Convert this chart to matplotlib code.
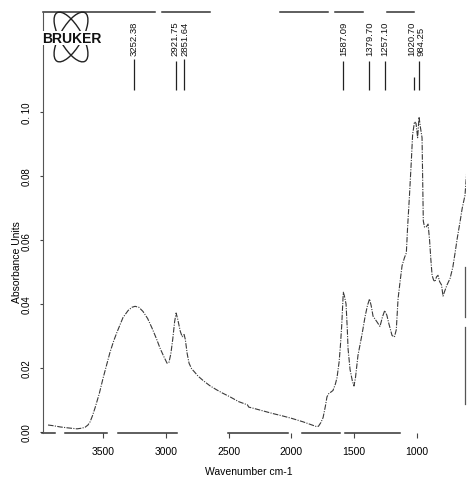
import numpy as np
import matplotlib.pyplot as plt
from matplotlib.patches import Ellipse

plt.rcParams['font.family'] = ['Liberation Sans', 'DejaVu Sans']

# spectrum (wavenumber cm-1, absorbance)
wavenumber = [3938, 3900, 3842, 3780, 3707, 3670, 3643, 3620, 3603, 3585, 3564,
              3530, 3500, 3470, 3444, 3415, 3389, 3360, 3341, 3300, 3270, 3245,
              3215, 3182, 3145, 3110, 3075, 3046, 3015, 2990, 2975, 2960, 2945,
              2930, 2918, 2905, 2885, 2870, 2855, 2845, 2830, 2815, 2795, 2770,
              2744, 2700, 2650, 2600, 2550, 2489, 2420, 2350, 2340, 2300, 2226,
              2150, 2067, 2000, 1908, 1850, 1800, 1785, 1765, 1748, 1730, 1717,
              1700, 1685, 1669, 1650, 1637, 1620, 1610, 1600, 1592, 1587, 1578,
              1565, 1555, 1549, 1533, 1515, 1502, 1490, 1470, 1450, 1438, 1414,
              1395, 1378, 1365, 1350, 1320, 1295, 1275, 1257, 1240, 1225, 1199,
              1180, 1165, 1151, 1135, 1119, 1100, 1085, 1075, 1060, 1045, 1035,
              1020, 1008, 995, 984, 972, 960, 950, 940, 925, 912, 900, 890, 880,
              868, 857, 845, 833, 820, 805, 793, 780, 761, 737, 715, 697, 680,
              658, 640, 618, 605]
absorbance = [0.0022, 0.0020, 0.0016, 0.0013, 0.0010, 0.0012, 0.0015, 0.0022,
              0.0032, 0.0050, 0.0075, 0.0120, 0.0168, 0.0212, 0.0250, 0.0285,
              0.0312, 0.0340, 0.0358, 0.0380, 0.0390, 0.0393, 0.0390, 0.0377,
              0.0355, 0.0325, 0.0292, 0.0262, 0.0235, 0.0215, 0.0218, 0.0245,
              0.0290, 0.0345, 0.0372, 0.0352, 0.0315, 0.0298, 0.0305, 0.0290,
              0.0245, 0.0215, 0.0198, 0.0187, 0.0175, 0.0160, 0.0145, 0.0133,
              0.0122, 0.0110, 0.0095, 0.0085, 0.0078, 0.0074, 0.0066, 0.0058,
              0.0050, 0.0043, 0.0032, 0.0024, 0.0017, 0.0018, 0.0030, 0.0045,
              0.0080, 0.0110, 0.0122, 0.0125, 0.0130, 0.0150, 0.0170, 0.0220,
              0.0270, 0.0330, 0.0400, 0.0437, 0.0425, 0.0400, 0.0320, 0.0260,
              0.0195, 0.0160, 0.0144, 0.0170, 0.0240, 0.0280, 0.0305, 0.0360,
              0.0395, 0.0416, 0.0395, 0.0362, 0.0345, 0.0330, 0.0360, 0.0380,
              0.0365, 0.0340, 0.0302, 0.0297, 0.0320, 0.0416, 0.0470, 0.0520,
              0.0545, 0.0560, 0.0640, 0.0740, 0.0850, 0.0930, 0.0970, 0.0965,
              0.0920, 0.0985, 0.0950, 0.0920, 0.0660, 0.0640, 0.0642, 0.0650,
              0.0600, 0.0540, 0.0490, 0.0475, 0.0470, 0.0485, 0.0490, 0.0470,
              0.0460, 0.0425, 0.0440, 0.0460, 0.0480, 0.0515, 0.0560, 0.0605,
              0.0656, 0.0700, 0.0740, 0.0810]

peak_wn = [3252.38, 2921.75, 2851.64, 1587.09, 1379.70, 1257.10, 1020.70, 984.25]
peak_labels = ['3252.38', '2921.75', '2851.64', '1587.09', '1379.70', '1257.10',
               '1020.70', '984.25']
peak_line_top = [0.1166, 0.116, 0.1166, 0.116, 0.116, 0.116, 0.111, 0.116]

x_ticks = [3500, 3000, 2500, 2000, 1500, 1000]
y_ticks = [0.00, 0.02, 0.04, 0.06, 0.08, 0.10]
y_tick_labels = ['0.00', '0.02', '0.04', '0.06', '0.08', '0. 10']

fig = plt.figure(figsize=(4.68, 4.81), dpi=100)
ax = fig.add_axes([43 / 468, 1 - 434 / 481, 423 / 468, 421 / 481])

ax.plot(wavenumber, absorbance, color='#3a3a3a', lw=0.8,
        dashes=(5, 1.2, 1, 1.2))

# peak markers with labels
ax.vlines(peak_wn, 0.107, peak_line_top, color='#222222', lw=0.9)
offsets = [-0.3, -0.3, 0.3, 0, 0, 0, -1.8, 1.6]
for wn, lab, off in zip(peak_wn, peak_labels, offsets):
    ax.annotate(lab, (wn, 0.1178), xytext=(off, 0), textcoords='offset points',
                rotation=90, ha='center', va='bottom', fontsize=6.8,
                color='#111111')

ax.set_xlim(3978, 610)
ax.set_ylim(-0.0003, 0.1313)

# broken frame, like the scanned original
for s in ['top', 'bottom', 'right']:
    ax.spines[s].set_visible(False)
ax.spines['left'].set_color('#555555')
ax.spines['left'].set_linewidth(0.8)
xt = ax.get_xaxis_transform()
top_segs = [(3978, 3086), (3030, 2648), (2091, 1709), (1653, 1430), (1239, 1024)]
bottom_segs = [(3986, 3882), (3803, 3468), (3381, 2911), (2505, 2027),
               (1916, 1613), (1573, 1135)]
for a, b in top_segs:
    ax.plot([a, b], [1, 1], transform=xt, color='#333333', lw=1.1,
            clip_on=False)
for a, b in bottom_segs:
    ax.plot([a, b], [0, 0], transform=xt, color='#333333', lw=1.1,
            clip_on=False)
for a, b in [(0.394, 0.2755), (0.2518, 0.0689)]:
    ax.plot([0.998, 0.998], [a, b], transform=ax.transAxes, color='#555555',
            lw=0.9, clip_on=False)

ax.set_xticks(x_ticks)
ax.set_xticklabels([str(t) for t in x_ticks], fontsize=7.5,
                   family=['Liberation Sans Narrow', 'Liberation Sans'])
ax.set_yticks(y_ticks)
ax.set_yticklabels(y_tick_labels, fontsize=7, rotation=90, va='center')
ax.tick_params(axis='x', direction='out', length=3.5, width=0.8,
               color='#444444', pad=6)
ax.tick_params(axis='y', direction='out', length=2.2, width=0.8,
               color='#444444', pad=6)

fig.text(249 / 468, 1 - 472 / 481, 'Wavenumber cm-1', ha='center',
         va='center', fontsize=7.5,
         family=['Liberation Sans Narrow', 'Liberation Sans'])
fig.text(17 / 468, 1 - 262 / 481, 'Absorbance Units', rotation=90,
         ha='center', va='center', fontsize=7.5)

# Bruker logo
tr = fig.dpi_scale_trans
for ang in (60, 120):
    fig.patches.append(Ellipse((0.71, (481 - 38) / 100), 0.56, 0.22,
                               angle=ang, fill=False, lw=1.0,
                               color='#222222', transform=tr))
fig.text(0.72, (481 - 39) / 100, 'BRUKER', transform=tr, ha='center',
         va='center', fontsize=10, fontweight='bold', color='#111111',
         bbox=dict(facecolor='white', edgecolor='none', pad=0.2))

fig.savefig('out.png', dpi=100)
